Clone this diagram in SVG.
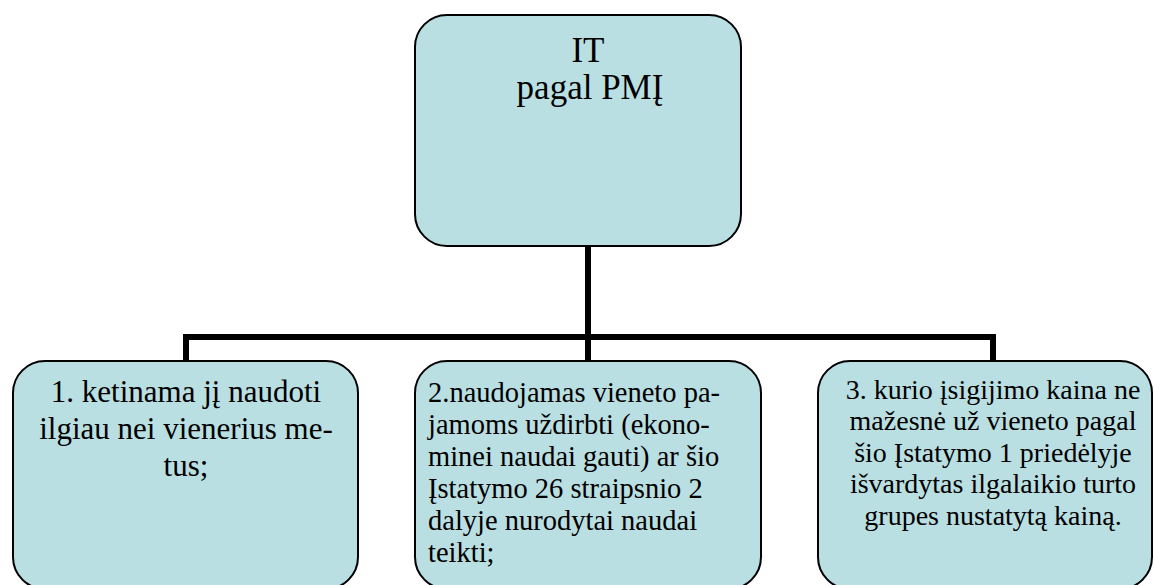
<svg xmlns="http://www.w3.org/2000/svg" width="1154" height="585" viewBox="0 0 1154 585">
<style>
.box{fill:#b9dfe2;stroke:#000;stroke-width:2}
.conn{fill:none;stroke:#000;stroke-width:6}
.t{font-family:'Liberation Serif','DejaVu Serif',serif;fill:#000}
.c{text-anchor:middle}
</style>
<rect width="1154" height="585" fill="#fff"/>
<g id="connectors">
<path class="conn" d="M588,246 V360"/>
<path class="conn" d="M186,360 V337 H993 V360"/>
</g>
<g id="root">
<rect class="box" x="415" y="15" width="326" height="231" rx="32" ry="32"/>
<text class="t c" font-size="35"><tspan x="588" y="62">IT</tspan><tspan x="590" y="99">pagal PMĮ</tspan></text>
</g>
<g id="n1">
<rect class="box" x="13" y="361" width="345" height="228" rx="32" ry="32"/>
<text class="t c" font-size="31"><tspan x="186" y="402">1. ketinama jį naudoti</tspan><tspan x="186" y="439">ilgiau nei vienerius me-</tspan><tspan x="186" y="476">tus;</tspan></text>
</g>
<g id="n2">
<rect class="box" x="415" y="361" width="346" height="228" rx="32" ry="32"/>
<text class="t" font-size="28.5"><tspan x="428" y="402">2.naudojamas vieneto pa-</tspan><tspan x="428" y="434">jamoms uždirbti (ekono-</tspan><tspan x="428" y="466">minei naudai gauti) ar šio</tspan><tspan x="428" y="498">Įstatymo 26 straipsnio 2</tspan><tspan x="428" y="530">dalyje nurodytai naudai</tspan><tspan x="428" y="562">teikti;</tspan></text>
</g>
<g id="n3">
<rect class="box" x="818" y="361" width="334" height="228" rx="32" ry="32"/>
<text class="t c" font-size="28"><tspan x="993" y="399">3. kurio įsigijimo kaina ne</tspan><tspan x="993" y="430">mažesnė už vieneto pagal</tspan><tspan x="993" y="462">šio Įstatymo 1 priedėlyje</tspan><tspan x="993" y="493">išvardytas ilgalaikio turto</tspan><tspan x="993" y="525">grupes nustatytą kainą.</tspan></text>
</g>
</svg>
